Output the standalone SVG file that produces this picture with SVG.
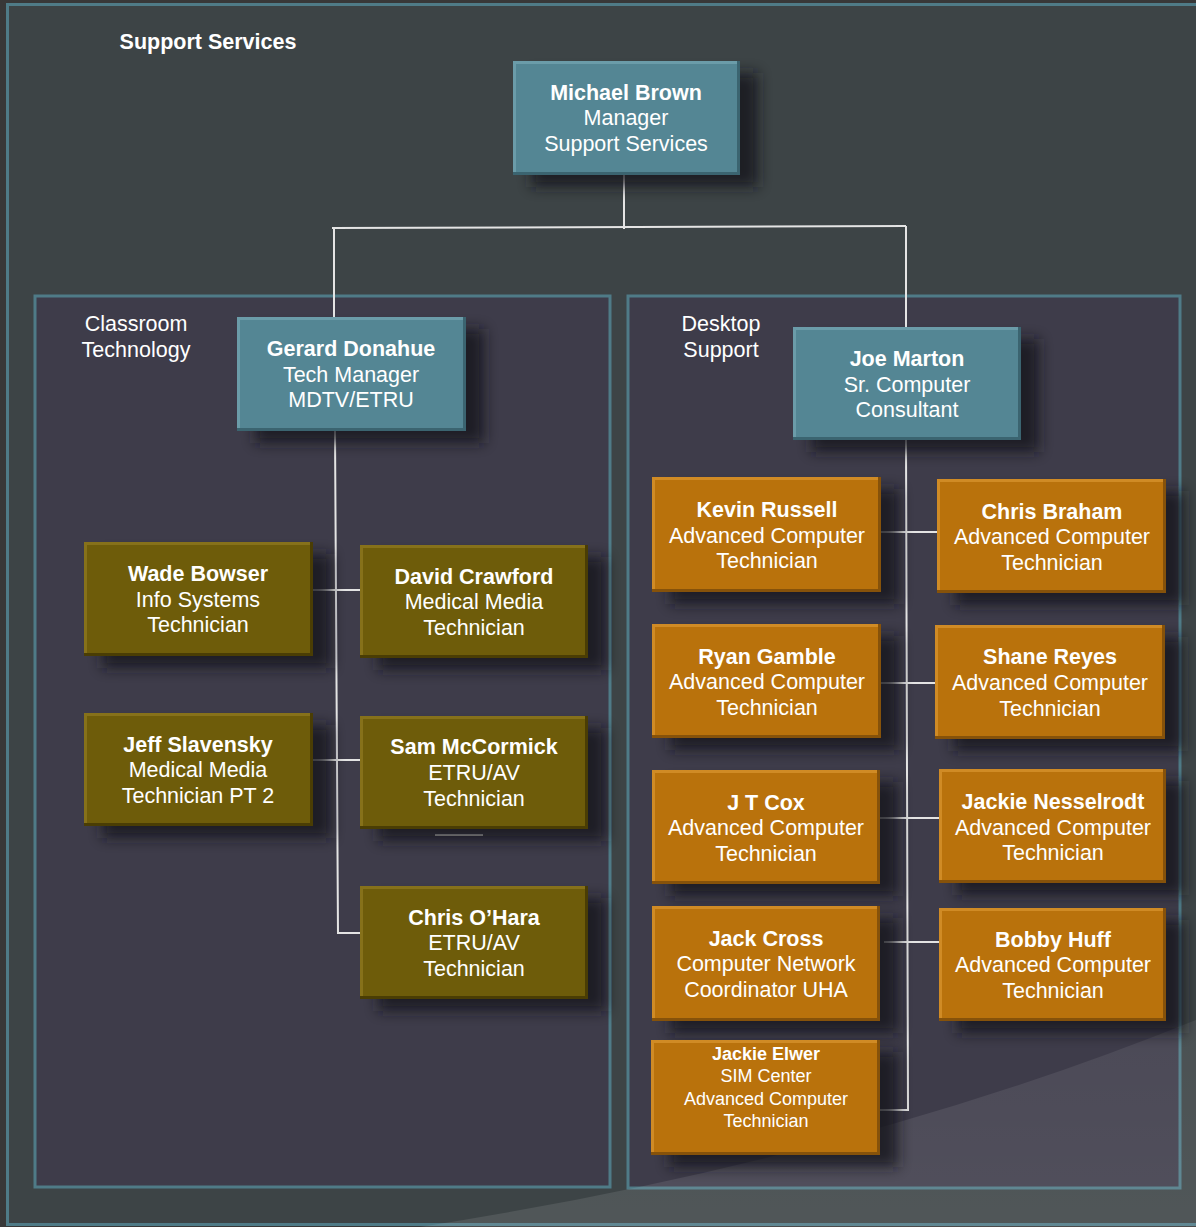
<svg xmlns="http://www.w3.org/2000/svg" width="1196" height="1227" viewBox="0 0 1196 1227">
<defs>
<filter id="blur" x="-20%" y="-20%" width="140%" height="140%"><feGaussianBlur stdDeviation="7"/></filter>
<linearGradient id="sheen" x1="0" y1="0" x2="0" y2="1"><stop offset="0" stop-color="#ffffff" stop-opacity="0.07"/><stop offset="1" stop-color="#ffffff" stop-opacity="0.1"/></linearGradient>
</defs>
<style>
text{font-family:"Liberation Sans",Arial,sans-serif;fill:#ffffff;font-size:21.5px;text-anchor:middle}
.b{font-weight:bold}
.sm{font-size:18px}
.sh{fill:#15151c;opacity:0.8;filter:url(#blur)}
.teal .dk{fill:#3b6470}.teal .lt{fill:#6b9ca9}.teal .fc{fill:#548694}
.olive .dk{fill:#4a3d04}.olive .lt{fill:#86711a}.olive .fc{fill:#6e5c0a}
.orange .dk{fill:#86520a}.orange .lt{fill:#d08b25}.orange .fc{fill:#b9720c}
.con line,.con polyline{stroke:#e4e4e4;stroke-width:2;fill:none}
.panel{fill:#3e3c4a;stroke:#4f7b87;stroke-width:3}
</style>
<rect x="0" y="0" width="1196" height="1227" fill="#383838"/>
<rect x="7.5" y="4.5" width="1200" height="1220" fill="#3d4446" stroke="#4f7b87" stroke-width="3"/>
<rect class="panel" x="35" y="296" width="575" height="891"/>
<rect class="panel" x="628" y="296" width="552" height="892"/>
<path d="M 420 1227 Q 850 1160 1196 1020 L 1196 1227 Z" fill="url(#sheen)"/>
<text class="b" x="208" y="49">Support Services</text>
<text x="136" y="331">Classroom</text>
<text x="136" y="357">Technology</text>
<text x="721" y="331">Desktop</text>
<text x="721" y="357">Support</text>

<g id="connectors" class="con">
<line x1="624" y1="175" x2="624" y2="229"/>
<polyline points="332,228 906,226"/>
<line x1="334" y1="228" x2="334" y2="317"/>
<line x1="906" y1="226" x2="906" y2="327"/>
<polyline points="335,431 338,933 360,933"/>
<line x1="313" y1="590" x2="360" y2="590"/>
<line x1="313" y1="760" x2="360" y2="760"/>
<line x1="435" y1="835" x2="483" y2="835"/>
<polyline points="906,440 908,1110 880,1110"/>
<line x1="881" y1="532" x2="937" y2="532"/>
<line x1="881" y1="683" x2="935" y2="683"/>
<line x1="880" y1="818" x2="939" y2="818"/>
<line x1="884" y1="942" x2="939" y2="942"/>
</g>

<g id="n-brown" class="teal">
<rect class="sh" x="531" y="73" width="227" height="114"/>
<rect class="dk" x="513" y="61" width="227" height="114"/><rect class="lt" x="513" y="61" width="224" height="111"/><rect class="fc" x="516" y="64" width="221" height="108"/>
<text x="626" y="100"><tspan class="b">Michael Brown</tspan><tspan x="626" y="125">Manager</tspan><tspan x="626" y="151">Support Services</tspan></text>
</g>
<g id="n-donahue" class="teal">
<rect class="sh" x="255" y="329" width="229" height="114"/>
<rect class="dk" x="237" y="317" width="229" height="114"/><rect class="lt" x="237" y="317" width="226" height="111"/><rect class="fc" x="240" y="320" width="223" height="108"/>
<text x="351" y="356"><tspan class="b">Gerard Donahue</tspan><tspan x="351" y="382">Tech Manager</tspan><tspan x="351" y="407">MDTV/ETRU</tspan></text>
</g>
<g id="n-marton" class="teal">
<rect class="sh" x="811" y="339" width="228" height="113"/>
<rect class="dk" x="793" y="327" width="228" height="113"/><rect class="lt" x="793" y="327" width="225" height="110"/><rect class="fc" x="796" y="330" width="222" height="107"/>
<text x="907" y="366"><tspan class="b">Joe Marton</tspan><tspan x="907" y="392">Sr. Computer</tspan><tspan x="907" y="417">Consultant</tspan></text>
</g>

<g id="n-bowser" class="olive">
<rect class="sh" x="102" y="554" width="229" height="114"/>
<rect class="dk" x="84" y="542" width="229" height="114"/><rect class="lt" x="84" y="542" width="226" height="111"/><rect class="fc" x="87" y="545" width="223" height="108"/>
<text x="198" y="581"><tspan class="b">Wade Bowser</tspan><tspan x="198" y="607">Info Systems</tspan><tspan x="198" y="632">Technician</tspan></text>
</g>
<g id="n-crawford" class="olive">
<rect class="sh" x="378" y="557" width="228" height="113"/>
<rect class="dk" x="360" y="545" width="228" height="113"/><rect class="lt" x="360" y="545" width="225" height="110"/><rect class="fc" x="363" y="548" width="222" height="107"/>
<text x="474" y="584"><tspan class="b">David Crawford</tspan><tspan x="474" y="609">Medical Media</tspan><tspan x="474" y="635">Technician</tspan></text>
</g>
<g id="n-slavensky" class="olive">
<rect class="sh" x="102" y="725" width="229" height="113"/>
<rect class="dk" x="84" y="713" width="229" height="113"/><rect class="lt" x="84" y="713" width="226" height="110"/><rect class="fc" x="87" y="716" width="223" height="107"/>
<text x="198" y="752"><tspan class="b">Jeff Slavensky</tspan><tspan x="198" y="777">Medical Media</tspan><tspan x="198" y="803">Technician PT 2</tspan></text>
</g>
<g id="n-mccormick" class="olive">
<rect class="sh" x="378" y="728" width="228" height="113"/>
<rect class="dk" x="360" y="716" width="228" height="113"/><rect class="lt" x="360" y="716" width="225" height="110"/><rect class="fc" x="363" y="719" width="222" height="107"/>
<text x="474" y="754"><tspan class="b">Sam McCormick</tspan><tspan x="474" y="780">ETRU/AV</tspan><tspan x="474" y="806">Technician</tspan></text>
</g>
<g id="n-ohara" class="olive">
<rect class="sh" x="378" y="898" width="228" height="113"/>
<rect class="dk" x="360" y="886" width="228" height="113"/><rect class="lt" x="360" y="886" width="225" height="110"/><rect class="fc" x="363" y="889" width="222" height="107"/>
<text x="474" y="925"><tspan class="b">Chris O’Hara</tspan><tspan x="474" y="950">ETRU/AV</tspan><tspan x="474" y="976">Technician</tspan></text>
</g>

<g id="n-russell" class="orange">
<rect class="sh" x="670" y="489" width="229" height="115"/>
<rect class="dk" x="652" y="477" width="229" height="115"/><rect class="lt" x="652" y="477" width="226" height="112"/><rect class="fc" x="655" y="480" width="223" height="109"/>
<text x="767" y="517"><tspan class="b">Kevin Russell</tspan><tspan x="767" y="543">Advanced Computer</tspan><tspan x="767" y="568">Technician</tspan></text>
</g>
<g id="n-braham" class="orange">
<rect class="sh" x="955" y="491" width="229" height="114"/>
<rect class="dk" x="937" y="479" width="229" height="114"/><rect class="lt" x="937" y="479" width="226" height="111"/><rect class="fc" x="940" y="482" width="223" height="108"/>
<text x="1052" y="519"><tspan class="b">Chris Braham</tspan><tspan x="1052" y="544">Advanced Computer</tspan><tspan x="1052" y="570">Technician</tspan></text>
</g>
<g id="n-gamble" class="orange">
<rect class="sh" x="670" y="636" width="229" height="114"/>
<rect class="dk" x="652" y="624" width="229" height="114"/><rect class="lt" x="652" y="624" width="226" height="111"/><rect class="fc" x="655" y="627" width="223" height="108"/>
<text x="767" y="664"><tspan class="b">Ryan Gamble</tspan><tspan x="767" y="689">Advanced Computer</tspan><tspan x="767" y="715">Technician</tspan></text>
</g>
<g id="n-reyes" class="orange">
<rect class="sh" x="953" y="637" width="230" height="114"/>
<rect class="dk" x="935" y="625" width="230" height="114"/><rect class="lt" x="935" y="625" width="227" height="111"/><rect class="fc" x="938" y="628" width="224" height="108"/>
<text x="1050" y="664"><tspan class="b">Shane Reyes</tspan><tspan x="1050" y="690">Advanced Computer</tspan><tspan x="1050" y="716">Technician</tspan></text>
</g>
<g id="n-cox" class="orange">
<rect class="sh" x="670" y="782" width="228" height="114"/>
<rect class="dk" x="652" y="770" width="228" height="114"/><rect class="lt" x="652" y="770" width="225" height="111"/><rect class="fc" x="655" y="773" width="222" height="108"/>
<text x="766" y="810"><tspan class="b">J T Cox</tspan><tspan x="766" y="835">Advanced Computer</tspan><tspan x="766" y="861">Technician</tspan></text>
</g>
<g id="n-nesselrodt" class="orange">
<rect class="sh" x="957" y="781" width="227" height="114"/>
<rect class="dk" x="939" y="769" width="227" height="114"/><rect class="lt" x="939" y="769" width="224" height="111"/><rect class="fc" x="942" y="772" width="221" height="108"/>
<text x="1053" y="809"><tspan class="b">Jackie Nesselrodt</tspan><tspan x="1053" y="835">Advanced Computer</tspan><tspan x="1053" y="860">Technician</tspan></text>
</g>
<g id="n-cross" class="orange">
<rect class="sh" x="670" y="918" width="228" height="115"/>
<rect class="dk" x="652" y="906" width="228" height="115"/><rect class="lt" x="652" y="906" width="225" height="112"/><rect class="fc" x="655" y="909" width="222" height="109"/>
<text x="766" y="946"><tspan class="b">Jack Cross</tspan><tspan x="766" y="971">Computer Network</tspan><tspan x="766" y="997">Coordinator UHA</tspan></text>
</g>
<g id="n-huff" class="orange">
<rect class="sh" x="957" y="920" width="227" height="113"/>
<rect class="dk" x="939" y="908" width="227" height="113"/><rect class="lt" x="939" y="908" width="224" height="110"/><rect class="fc" x="942" y="911" width="221" height="107"/>
<text x="1053" y="947"><tspan class="b">Bobby Huff</tspan><tspan x="1053" y="972">Advanced Computer</tspan><tspan x="1053" y="998">Technician</tspan></text>
</g>
<g id="n-elwer" class="orange">
<rect class="sh" x="669" y="1052" width="229" height="115"/>
<rect class="dk" x="651" y="1040" width="229" height="115"/><rect class="lt" x="651" y="1040" width="226" height="112"/><rect class="fc" x="654" y="1043" width="223" height="109"/>
<text class="sm" x="766" y="1060"><tspan class="b">Jackie Elwer</tspan><tspan x="766" y="1082">SIM Center</tspan><tspan x="766" y="1105">Advanced Computer</tspan><tspan x="766" y="1127">Technician</tspan></text>
</g>
</svg>
